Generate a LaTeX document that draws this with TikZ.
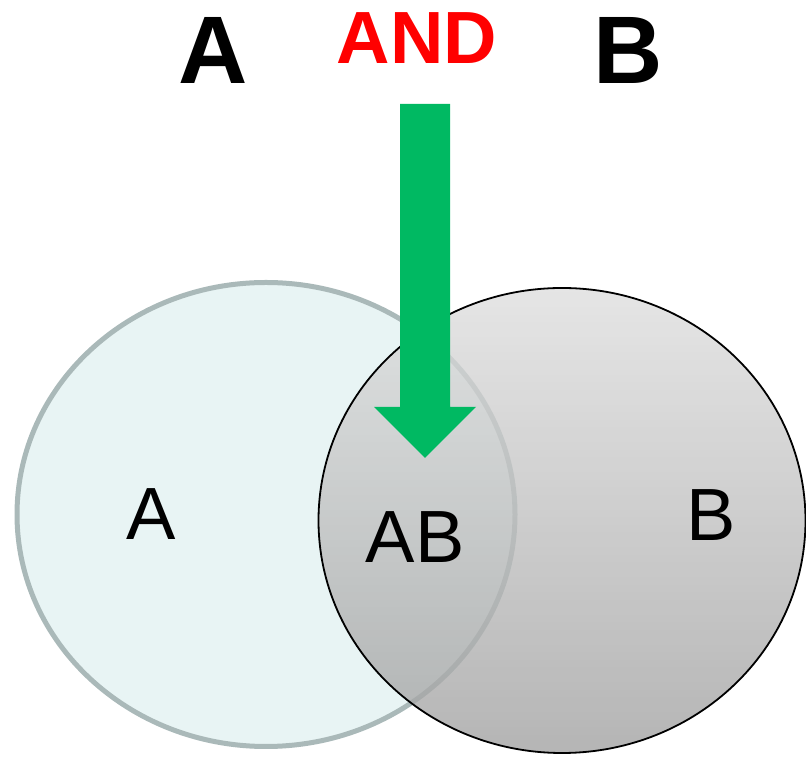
\documentclass[tikz,border=0pt]{standalone}
\usepackage{fontspec}
\setmainfont{Liberation Sans}
\definecolor{andgreen}{RGB}{0,185,98}
\definecolor{andred}{RGB}{255,0,0}
\definecolor{setafill}{RGB}{232,244,244}
\definecolor{setaline}{RGB}{170,185,185}
\definecolor{setbtop}{RGB}{222,222,222}
\definecolor{setbbottom}{RGB}{160,160,160}

\begin{document}
\begin{tikzpicture}[x=1pt,y=1pt,
    heading/.style={font=\fontsize{96}{100}\selectfont\bfseries,anchor=base,inner sep=0pt},
    setlabel/.style={font=\fontsize{74}{80}\selectfont,anchor=base,inner sep=0pt}]
\useasboundingbox (0,0) rectangle (806,757);
% the two sets
\draw[setaline,line width=5,fill=setafill] (266,242.5) ellipse [x radius=249, y radius=232];
\draw[black,line width=1.8,top color=setbtop,bottom color=setbbottom,fill opacity=0.78]
    (562,236.5) ellipse [x radius=243.5, y radius=232.5];
% the arrow into the overlap
\coordinate (tail) at (425,653);
\coordinate (tip) at (425,299);
\fill[andgreen] ([xshift=-25]tail) -- ([xshift=25]tail) -- ([xshift=25,yshift=51]tip)
    -- ([xshift=51,yshift=51]tip) -- (tip) -- ([xshift=-51,yshift=51]tip)
    -- ([xshift=-25,yshift=51]tip) -- cycle;
% headings
\node[heading] (headA) at (213,673) {A};
\node[heading,font=\fontsize{74}{80}\selectfont\bfseries,text=andred] (headAND) at (417,693) {AND};
\node[heading] (headB) at (628,673) {B};
% set labels
\node[setlabel] (labA) at (151.5,217) {A};
\node[setlabel] (labAB) at (415,194) {AB};
\node[setlabel] (labB) at (711,216) {B};
\end{tikzpicture}
\end{document}
